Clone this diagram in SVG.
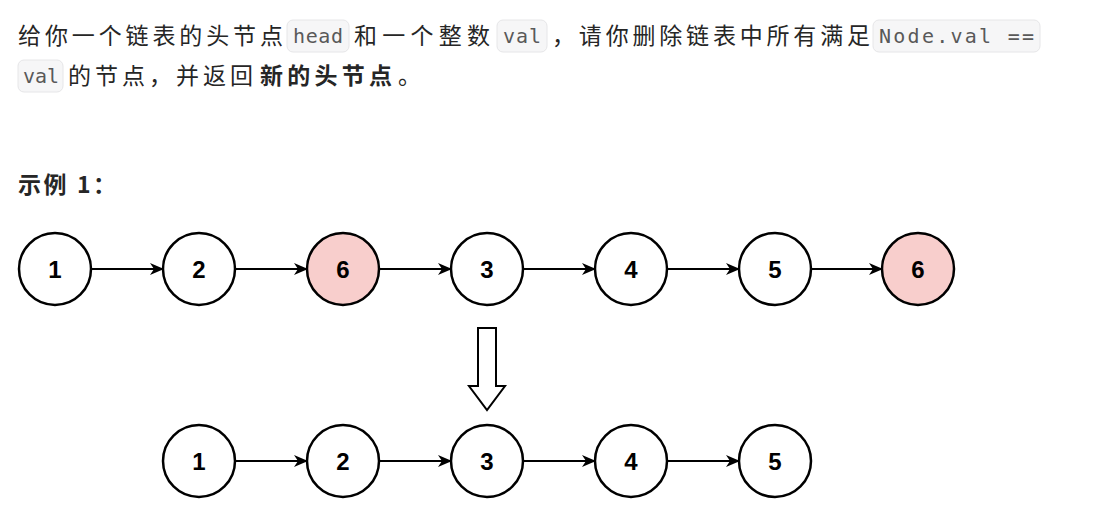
<svg xmlns="http://www.w3.org/2000/svg" width="1106" height="527" viewBox="0 0 1106 527">
<style>
.t{font-family:"Noto Sans CJK SC","Noto Sans",sans-serif;font-size:23px;fill:#262626}
.c{font-family:"DejaVu Sans Mono",monospace;font-size:20px;fill:#595959}
.cb{fill:#f6f6f7;stroke:#e6e6e8;stroke-width:1}
.n circle{stroke:#000;stroke-width:2.5;fill:#fff}
.n.r circle{fill:#f8cecc}
.n text{font-family:"Liberation Sans",Arial,sans-serif;font-weight:bold;font-size:24px;text-anchor:middle;fill:#000}
.e{stroke:#000;stroke-width:2;fill:none;marker-end:url(#a)}
</style>
<defs><marker id="a" markerWidth="14" markerHeight="12" refX="13" refY="6" orient="auto" markerUnits="userSpaceOnUse"><path d="M0,0 L14,6 L0,12 L4,6 Z" fill="#000"/></marker></defs>
<g id="text">
<rect class="cb" x="287" y="20" width="62" height="32" rx="6"/>
<rect class="cb" x="497" y="20" width="50" height="32" rx="6"/>
<rect class="cb" x="873" y="20" width="167" height="32" rx="6"/>
<rect class="cb" x="18" y="60" width="45" height="32" rx="6"/>
<text class="t" x="18" y="44" textLength="265">给你一个链表的头节点</text>
<text class="c" x="293" y="43" textLength="50">head</text>
<text class="t" x="354" y="44" textLength="136">和一个整数</text>
<text class="c" x="503" y="43" textLength="38">val</text>
<text class="t" x="552" y="44" textLength="318">，请你删除链表中所有满足</text>
<text class="c" x="879" y="43" textLength="155">Node.val ==</text>
<text class="c" x="23" y="83" textLength="36">val</text>
<text class="t" x="68" y="84" textLength="185">的节点，并返回</text>
<text class="t" x="260" y="84" font-weight="bold" textLength="132">新的头节点</text>
<text class="t" x="398" y="84">。</text>
<text class="t" x="18" y="193" font-weight="bold" font-size="21" textLength="98">示例 1：</text>
</g>
<g id="connectors">
<line class="e" x1="91" y1="269" x2="163" y2="269"/>
<line class="e" x1="235" y1="269" x2="307" y2="269"/>
<line class="e" x1="379" y1="269" x2="451" y2="269"/>
<line class="e" x1="523" y1="269" x2="595" y2="269"/>
<line class="e" x1="667" y1="269" x2="739" y2="269"/>
<line class="e" x1="811" y1="269" x2="882" y2="269"/>
<line class="e" x1="235" y1="461" x2="307" y2="461"/>
<line class="e" x1="379" y1="461" x2="451" y2="461"/>
<line class="e" x1="523" y1="461" x2="595" y2="461"/>
<line class="e" x1="667" y1="461" x2="739" y2="461"/>
<path id="bigarrow" d="M478,328 H496 V386 H505 L487,410 L469,386 H478 Z" fill="#fff" stroke="#000" stroke-width="2"/>
</g>
<g id="n1" class="n"><circle cx="55" cy="269" r="36"/><text x="55" y="278">1</text></g>
<g id="n2" class="n"><circle cx="199" cy="269" r="36"/><text x="199" y="278">2</text></g>
<g id="n3" class="n r"><circle cx="343" cy="269" r="36"/><text x="343" y="278">6</text></g>
<g id="n4" class="n"><circle cx="487" cy="269" r="36"/><text x="487" y="278">3</text></g>
<g id="n5" class="n"><circle cx="631" cy="269" r="36"/><text x="631" y="278">4</text></g>
<g id="n6" class="n"><circle cx="775" cy="269" r="36"/><text x="775" y="278">5</text></g>
<g id="n7" class="n r"><circle cx="918" cy="269" r="36"/><text x="918" y="278">6</text></g>
<g id="m1" class="n"><circle cx="199" cy="461" r="36"/><text x="199" y="470">1</text></g>
<g id="m2" class="n"><circle cx="343" cy="461" r="36"/><text x="343" y="470">2</text></g>
<g id="m3" class="n"><circle cx="487" cy="461" r="36"/><text x="487" y="470">3</text></g>
<g id="m4" class="n"><circle cx="631" cy="461" r="36"/><text x="631" y="470">4</text></g>
<g id="m5" class="n"><circle cx="775" cy="461" r="36"/><text x="775" y="470">5</text></g>
</svg>
